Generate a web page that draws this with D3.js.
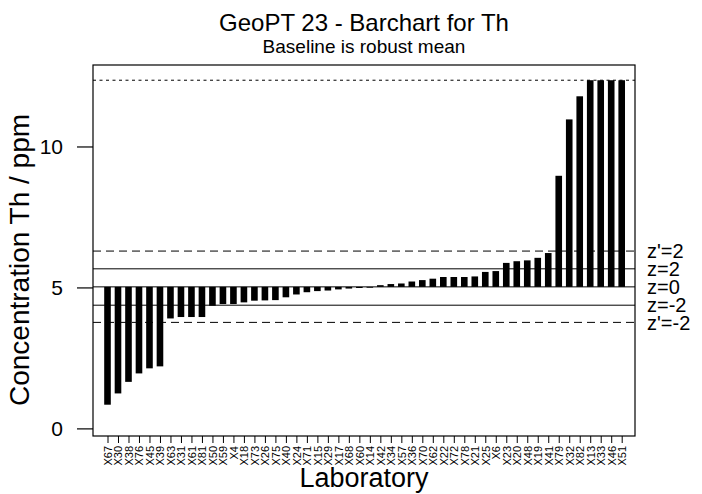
<!DOCTYPE html>
<html>
<head>
<meta charset="utf-8">
<script src="https://cdn.jsdelivr.net/npm/d3@7"></script>
<style>
  body { margin: 0; background: #fff; }
  text { font-family: "Liberation Sans", Arial, sans-serif; fill: #000; }
</style>
</head>
<body>
<div id="chart"></div>
<script>
// Chart size
const width = 702;
const height = 494;

// Laboratory codes, sorted by reported value
const labs = ["X67","X30","X38","X76","X45","X39","X63","X31","X61","X81",
  "X50","X59","X4","X18","X73","X26","X75","X40","X24","X71",
  "X15","X29","X17","X68","X60","X14","X42","X34","X57","X36",
  "X70","X62","X22","X72","X78","X21","X25","X6","X23","X20",
  "X48","X19","X41","X79","X32","X82","X13","X33","X46","X51"];

// Reported concentrations (ppm); the last ones are cut at the plot limit
const values = [0.84,1.24,1.65,1.95,2.13,2.20,3.90,3.95,3.95,3.95,
  4.35,4.41,4.41,4.47,4.53,4.54,4.55,4.65,4.75,4.83,
  4.87,4.89,4.93,4.96,4.98,4.99,5.08,5.12,5.14,5.21,
  5.26,5.31,5.37,5.37,5.37,5.39,5.55,5.58,5.87,5.93,
  5.96,6.05,6.22,8.96,10.96,11.78,12.35,12.35,12.35,12.35];

// Reference lines
const baseline = 5.02;
const zLines = [
  { label: "z'=2",  value: 6.29, dash: "8,5" },
  { label: "z=2",   value: 5.66, dash: null },
  { label: "z=0",   value: 5.02, dash: null },
  { label: "z=-2",  value: 4.37, dash: null },
  { label: "z'=-2", value: 3.76, dash: "8,5" }
];
const upperLimit = 12.35;
const yTicks = [0, 5, 10];

// Plot box
const box = { left: 93, right: 635, top: 65, bottom: 436 };

const svg = d3.select("#chart")
  .append("svg")
  .attr("width", width)
  .attr("height", height);

// Scales
const x = d3.scalePoint()
  .domain(labs)
  .range([107.5, 621.7]);
const barW = x.step() * 0.63;

const y = d3.scaleLinear()
  .domain([-0.27, 12.89])
  .range([box.bottom, box.top]);

// Bars hang from the baseline
svg.append("g")
  .selectAll("rect")
  .data(values)
  .enter().append("rect")
  .attr("x", (d, i) => x(labs[i]) - barW / 2)
  .attr("width", barW)
  .attr("y", d => y(Math.max(d, baseline)))
  .attr("height", d => Math.abs(y(d) - y(baseline)))
  .attr("fill", "#000");

// z-score lines
svg.append("g")
  .selectAll("line")
  .data(zLines)
  .enter().append("line")
  .attr("x1", box.left)
  .attr("x2", box.right)
  .attr("y1", d => y(d.value))
  .attr("y2", d => y(d.value))
  .attr("stroke", "#000")
  .attr("stroke-width", 1)
  .attr("stroke-dasharray", d => d.dash);

// limit line
svg.append("line")
  .attr("x1", box.left)
  .attr("x2", box.right)
  .attr("y1", y(upperLimit))
  .attr("y2", y(upperLimit))
  .attr("stroke", "#000")
  .attr("stroke-dasharray", "3,3.5");

// z labels on the right
svg.append("g")
  .selectAll("text")
  .data(zLines)
  .enter().append("text")
  .attr("x", 647)
  .attr("y", d => y(d.value))
  .attr("dy", "0.36em")
  .attr("font-size", 20)
  .text(d => d.label);

// box
svg.append("rect")
  .attr("x", box.left)
  .attr("y", box.top)
  .attr("width", box.right - box.left)
  .attr("height", box.bottom - box.top)
  .attr("fill", "none")
  .attr("stroke", "#000")
  .attr("stroke-width", 1.2);

// y axis
const yAxis = svg.append("g")
  .attr("transform", `translate(${box.left},0)`)
  .call(d3.axisLeft(y).tickValues(yTicks).tickSize(16).tickPadding(14));
yAxis.select(".domain").remove();
yAxis.selectAll("line").attr("stroke-width", 1.2);
yAxis.selectAll("text").attr("font-size", 21)
  .style("font-family", "Liberation Sans, Arial, sans-serif");

// x axis
const xAxis = svg.append("g")
  .attr("transform", `translate(0,${box.bottom})`)
  .call(d3.axisBottom(x).tickSize(7));
xAxis.select(".domain").remove();
xAxis.selectAll("text")
  .attr("font-size", 11)
  .attr("fill", "#333")
  .style("font-family", "Liberation Sans, Arial, sans-serif")
  .attr("transform", "rotate(-90)")
  .attr("text-anchor", "end")
  .attr("x", -10)
  .attr("y", 0)
  .attr("dy", "0.35em");

// titles
svg.append("text")
  .attr("x", 364).attr("y", 31)
  .attr("text-anchor", "middle")
  .attr("font-size", 24)
  .text("GeoPT 23 - Barchart for Th");
svg.append("text")
  .attr("x", 364).attr("y", 53)
  .attr("text-anchor", "middle")
  .attr("font-size", 19)
  .text("Baseline is robust mean");

svg.append("text")
  .attr("x", 364).attr("y", 487)
  .attr("text-anchor", "middle")
  .attr("font-size", 27)
  .text("Laboratory");

svg.append("text")
  .attr("transform", "translate(29,260) rotate(-90)")
  .attr("text-anchor", "middle")
  .attr("font-size", 28)
  .text("Concentration Th / ppm");
</script>
</body>
</html>
